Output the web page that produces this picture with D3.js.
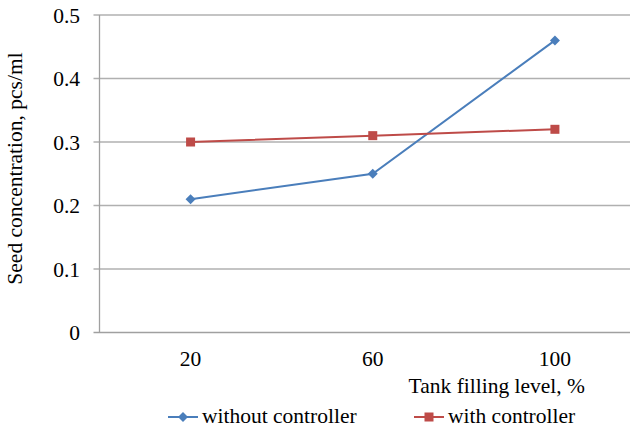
<!DOCTYPE html>
<html><head><meta charset="utf-8">
<script src="https://cdn.jsdelivr.net/npm/d3@7"></script>
<style>body{margin:0;background:#fff}svg{display:block}</style>
</head><body>
<svg id="c" width="630" height="431" font-family="'Liberation Serif', 'DejaVu Serif', serif"></svg>
<script>
const categories = ["20", "60", "100"];
const withoutController = [0.21, 0.25, 0.46];
const withController = [0.30, 0.31, 0.32];
const yTicks = [0, 0.1, 0.2, 0.3, 0.4, 0.5];
const seriesNames = ["without controller", "with controller"];
const colors = ["#4A7EBB", "#BE4B48"];

const svg = d3.select("#c");
const pL = 99.5, pR = 646, pT = 15, pB = 332.5;
const x = d3.scalePoint().domain(categories).range([pL, pR]).padding(0.5);
const y = d3.scaleLinear().domain([0, 0.5]).range([pB, pT]);
const FS = 21.5;

svg.append("g").selectAll("line").data(yTicks).join("line")
  .attr("x1", pL - 6).attr("x2", 630)
  .attr("y1", d => y(d)).attr("y2", d => y(d))
  .attr("stroke", d => d === 0 ? "#A0A0A0" : "#B0B0B0").attr("stroke-width", 1.3);
svg.append("line").attr("x1", pL).attr("x2", pL).attr("y1", pT).attr("y2", pB)
  .attr("stroke", "#A0A0A0").attr("stroke-width", 1.3);

svg.append("g").selectAll("text").data(yTicks).join("text")
  .attr("x", 80).attr("y", d => y(d)).attr("dy", "0.35em")
  .attr("text-anchor", "end").attr("font-size", FS).text(d => d);
svg.append("g").selectAll("text").data(categories).join("text")
  .attr("x", d => x(d)).attr("y", 366).attr("text-anchor", "middle")
  .attr("font-size", FS).text(d => d);

svg.append("text").attr("x", 585).attr("y", 393).attr("text-anchor", "end")
  .attr("font-size", FS).text("Tank filling level, %");
svg.append("text").attr("transform", "translate(22,168.5) rotate(-90)")
  .attr("text-anchor", "middle").attr("font-size", FS).text("Seed concentration, pcs/ml");

const line = d3.line().x((d, i) => x(categories[i])).y(d => y(d));
const series = [withoutController, withController];

function marker(g, type, cx, cy, col) {
  if (type === 0) {
    g.append("path").attr("d", `M${cx},${cy-5}L${cx+5},${cy}L${cx},${cy+5}L${cx-5},${cy}Z`).attr("fill", col);
  } else {
    g.append("rect").attr("x", cx-4.5).attr("y", cy-4.5).attr("width", 9).attr("height", 9).attr("fill", col);
  }
}

series.forEach((s, k) => {
  const g = svg.append("g");
  g.append("path").attr("d", line(s)).attr("fill", "none").attr("stroke", colors[k]).attr("stroke-width", 2);
  s.forEach((v, i) => marker(g, k, x(categories[i]), y(v), colors[k]));
});

const legX = [168, 414];
seriesNames.forEach((n, k) => {
  const g = svg.append("g");
  g.append("line").attr("x1", legX[k]).attr("x2", legX[k] + 30).attr("y1", 417).attr("y2", 417)
    .attr("stroke", colors[k]).attr("stroke-width", 2);
  marker(g, k, legX[k] + 15, 417, colors[k]);
  g.append("text").attr("x", legX[k] + 34).attr("y", 423).attr("font-size", FS).text(n);
});
</script>
</body></html>
